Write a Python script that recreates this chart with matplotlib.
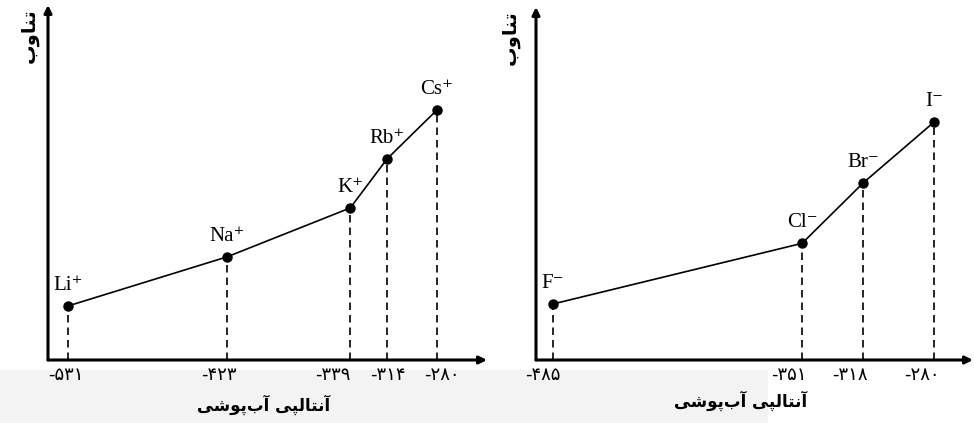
import matplotlib
matplotlib.use('Agg')
import matplotlib.pyplot as plt
import matplotlib.transforms as mtransforms
from matplotlib.patches import Rectangle

# داده ها (آنتالپی آب پوشی و تناوب)
cations = ['Li', 'Na', 'K', 'Rb', 'Cs']
cation_enthalpy = [-531, -423, -339, -314, -280]
cation_period = [2, 3, 4, 5, 6]

anions = ['F', 'Cl', 'Br', 'I']
anion_enthalpy = [-485, -351, -318, -280]
anion_period = [2, 3, 4, 5]

x_title = 'آنتالپی آب\u200cپوشی'
y_title = 'تناوب'

W, H = 974, 423

# matplotlib shaping nemikone, pas harf ha ro dasti be presentation form mibarim
FORMS = {
    'آ': ('\uFE81', '\uFE82', None, None),
    'ا': ('\uFE8D', '\uFE8E', None, None),
    'ب': ('\uFE8F', '\uFE90', '\uFE91', '\uFE92'),
    'پ': ('\uFB56', '\uFB57', '\uFB58', '\uFB59'),
    'ت': ('\uFE95', '\uFE96', '\uFE97', '\uFE98'),
    'ش': ('\uFEB5', '\uFEB6', '\uFEB7', '\uFEB8'),
    'ل': ('\uFEDD', '\uFEDE', '\uFEDF', '\uFEE0'),
    'ن': ('\uFEE5', '\uFEE6', '\uFEE7', '\uFEE8'),
    'و': ('\uFEED', '\uFEEE', None, None),
    'ی': ('\uFBFC', '\uFBFD', '\uFBFE', '\uFBFF'),
}


def shape(text):
    out = []
    for i, ch in enumerate(text):
        if ch not in FORMS:
            if ch != '\u200c':
                out.append(ch)
            continue
        prev = text[i - 1] if i > 0 else ''
        nxt = text[i + 1] if i + 1 < len(text) else ''
        iso, fin, ini, med = FORMS[ch]
        join_prev = prev in FORMS and FORMS[prev][2] is not None
        join_next = nxt in FORMS and ini is not None
        if join_prev and join_next:
            out.append(med)
        elif join_prev:
            out.append(fin)
        elif join_next:
            out.append(ini)
        else:
            out.append(iso)
    return ''.join(reversed(out))


def fa_num(v):
    return str(v).translate(str.maketrans('0123456789', '۰۱۲۳۴۵۶۷۸۹'))


def draw_panel(ax, names, xs, ys, sign, xlim, ylim, tick_shift):
    ax.set_xlim(*xlim)
    ax.set_ylim(*ylim)
    ax.patch.set_alpha(0)
    for s in ax.spines.values():
        s.set_visible(False)

    # mehvar ha ba fleshe
    arrow = dict(arrowstyle='-|>', lw=2.2, color='black', mutation_scale=11,
                 shrinkA=0, shrinkB=0)
    ax.annotate('', xy=(1, 0), xytext=(0, 0), xycoords='axes fraction', arrowprops=arrow)
    ax.annotate('', xy=(0, 1), xytext=(0, 0), xycoords='axes fraction', arrowprops=arrow)

    ax.plot(xs, ys, color='black', lw=1.2, marker='o', ms=6.5, zorder=3)
    ax.vlines(xs, ylim[0], ys, colors='black', lw=1.2, linestyles=(0, (4.5, 3)))

    for n, x, y in zip(names, xs, ys):
        ax.annotate(n + sign, (x, y), xytext=(0, 8), textcoords='offset points',
                    ha='center', va='bottom', fontsize=15,
                    family=['Liberation Serif', 'DejaVu Serif'])

    ax.set_yticks([])
    ax.set_xticks(xs)
    ax.set_xticklabels([fa_num(v) for v in xs], fontsize=13, family='DejaVu Sans')
    ax.tick_params(axis='x', length=0, pad=4)
    # jabeja kardan label ha mesle tasvir asli (pixel)
    for lab, dx in zip(ax.get_xticklabels(), tick_shift):
        off = mtransforms.ScaledTranslation(dx / 100, 0, ax.figure.dpi_scale_trans)
        lab.set_transform(lab.get_transform() + off)


fig = plt.figure(figsize=(W / 100, H / 100), dpi=100)

# pas zamine khakestari payin (watermark)
fig.patches.append(Rectangle((0, 0), 768 / W, 53 / H, transform=fig.transFigure,
                             facecolor='#f3f3f3', edgecolor='none', zorder=-5))

ax1 = fig.add_axes([48 / W, 63 / H, 439 / W, 355 / H])
draw_panel(ax1, cations, cation_enthalpy, cation_period, '\u207a',
           (-544.6, -246), (0.898, 8.14), [-2, -8, -17, 1, 5])

ax2 = fig.add_axes([536 / W, 63 / H, 437 / W, 353 / H])
draw_panel(ax2, anions, anion_enthalpy, anion_period, '\u207b',
           (-494.1, -259.1), (1.077, 6.895), [-10, -13, -14, -12])

for cx, cy in [(264, 405), (741, 401)]:
    fig.text(cx / W, 1 - cy / H, shape(x_title), ha='center', va='center',
             fontsize=12, fontweight='bold', family='DejaVu Sans')
for cx, cy in [(29, 36), (510, 38)]:
    fig.text(cx / W, 1 - cy / H, shape(y_title), ha='center', va='center',
             rotation=90, fontsize=14, fontweight='bold', family='DejaVu Sans')

fig.savefig('out.png', dpi=100)
